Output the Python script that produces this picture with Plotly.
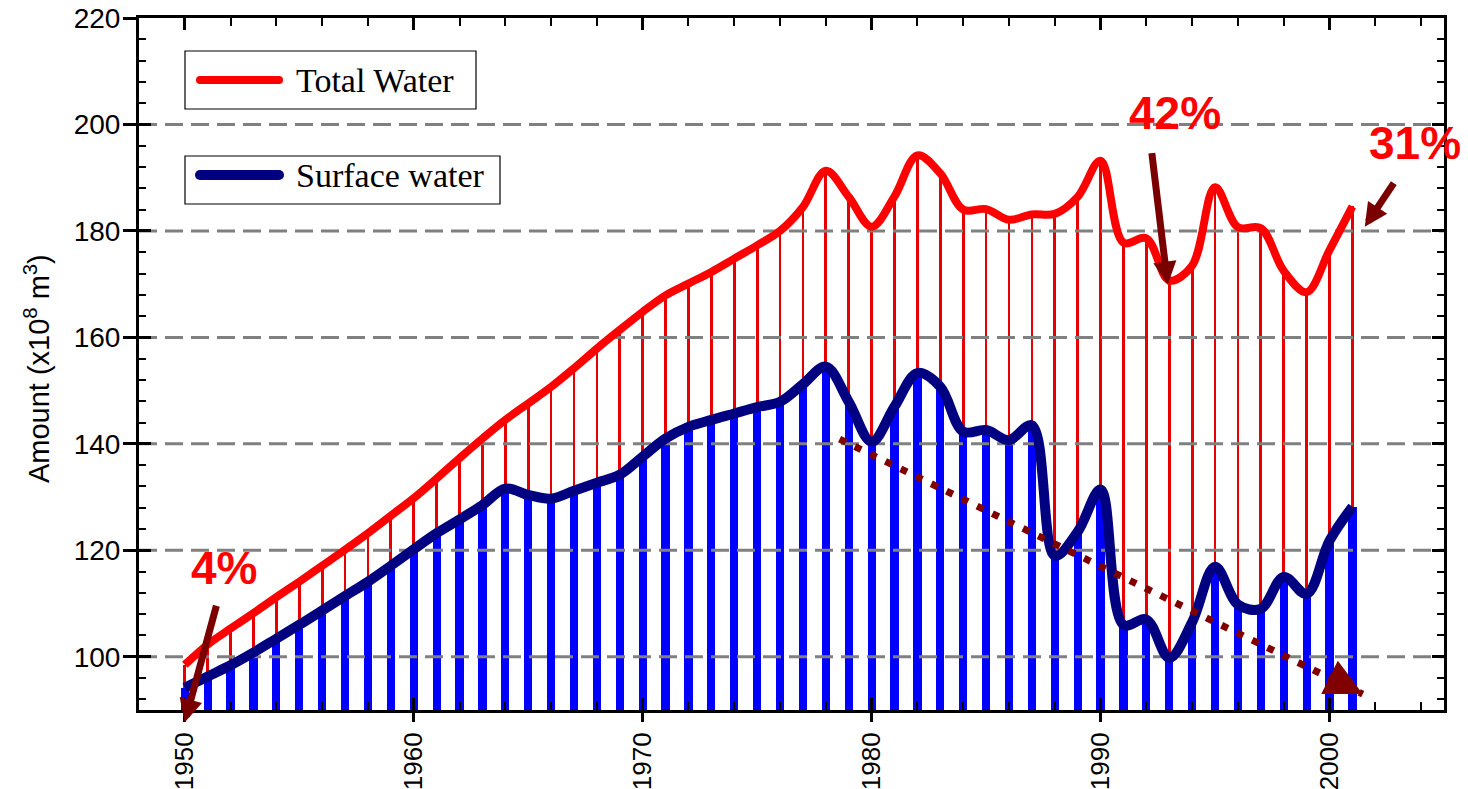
import plotly.graph_objects as go

# ---- data -------------------------------------------------------------
years = list(range(1950, 2002))

total_water = [
    98.5, 102.3, 105.3, 108.2, 111.2, 114.1, 117.1, 120.1, 123.2, 126.5,
    129.8, 133.5, 137.3, 141.0, 144.5, 147.6, 150.7, 154.2, 157.9, 161.4,
    164.8, 167.9, 170.1, 172.3, 174.8, 177.3, 180.0, 184.5, 191.3, 186.4,
    180.8, 186.5, 194.2, 190.8, 184.0, 184.1, 182.1, 183.1, 183.2, 186.4,
    193.2, 177.8, 178.6, 170.7, 173.5, 188.2, 180.7, 180.5, 172.5, 168.5,
    176.4, 184.6,
]

surface_water = [
    94.2, 96.3, 98.4, 100.8, 103.4, 106.0, 108.7, 111.4, 114.1, 117.1,
    120.2, 123.2, 125.8, 128.5, 131.6, 130.4, 129.7, 131.2, 132.7, 134.2,
    137.6, 141.0, 143.2, 144.5, 145.7, 146.9, 147.9, 151.2, 154.5, 147.9,
    140.4, 147.0, 153.3, 150.7, 142.3, 142.6, 140.7, 143.5, 119.0, 123.5,
    131.4, 106.0, 107.0, 99.8, 106.5, 116.9, 109.8, 109.0, 115.0, 111.8,
    121.8, 128.2,
]

x_range = [1948, 2005]
y_range = [90, 220]
grid_levels = [100, 120, 140, 160, 180, 200]

# declining surface-water trend (start, end)
trend_years = [1978.6, 2001.45]
trend_values = [140.9, 93.0]

# share labels and their pointer arrows
share_labels = ["4%", "42%", "31%"]
share_label_x = [1951.7, 1993.25, 2003.75]
share_label_y = [116.6, 202.15, 196.5]
pointer_tip_x = [1950.0, 1992.93, 2001.54]
pointer_tip_y = [87.7, 169.9, 180.8]
pointer_dx = [32, -16, 30]
pointer_dy = [-118, -133, -45]

legend_names = ["Total Water", "Surface water"]

# ---- colours / fonts ---------------------------------------------------
RED = "#FF0000"
STEM_RED = "#E80000"
NAVY = "#000080"
BAR_BLUE = "#0000FF"
DARK_RED = "#7A0000"
GRID = "#808080"
SANS = "Liberation Sans, Arial, sans-serif"
SERIF = "Liberation Serif, Times New Roman, serif"

# plot-area pixel frame
L, R, T, B = 139, 1444, 18, 710
W, H = R - L, B - T


def px(x):
    return (x - L) / W


def py(y):
    return (B - y) / H


fig = go.Figure()

# thin red stems for total water, wide blue bars for surface water
fig.add_trace(go.Bar(x=years, y=total_water, width=0.12,
                     marker=dict(color=STEM_RED, line=dict(width=0)),
                     showlegend=False, hoverinfo="skip"))
fig.add_trace(go.Bar(x=years, y=surface_water, width=0.36,
                     marker=dict(color=BAR_BLUE, line=dict(width=0)),
                     showlegend=False, hoverinfo="skip"))

# dashed horizontal reference lines, drawn over the bars
gx, gy = [], []
for lvl in grid_levels:
    gx += [x_range[0], x_range[1], None]
    gy += [lvl, lvl, None]
fig.add_trace(go.Scatter(x=gx, y=gy, mode="lines",
                         line=dict(color=GRID, width=3, dash="18px,8px"),
                         showlegend=False, hoverinfo="skip"))

# smoothed series lines
fig.add_trace(go.Scatter(x=years, y=total_water, mode="lines",
                         name=legend_names[0],
                         line=dict(color=RED, width=8, shape="spline", smoothing=1),
                         showlegend=False))
fig.add_trace(go.Scatter(x=years, y=surface_water, mode="lines",
                         name=legend_names[1],
                         line=dict(color=NAVY, width=10, shape="spline", smoothing=1),
                         showlegend=False))

# dotted trend line (on the overlay axes so it sits above everything)
fig.add_trace(go.Scatter(x=trend_years, y=trend_values, mode="lines",
                         xaxis="x2", yaxis="y2",
                         line=dict(color="#800000", width=7, dash="7px,10px"),
                         showlegend=False, hoverinfo="skip"))

annotations = []

# trend arrowhead
annotations.append(dict(
    x=trend_years[1], y=trend_values[1], xref="x", yref="y",
    ax=-32, ay=-16, text="", showarrow=True, arrowhead=2,
    arrowsize=1.06, arrowwidth=7, arrowcolor="#800000", standoff=0))

# share labels with pointers
for lab, lx, ly, tx, ty, dx, dy in zip(share_labels, share_label_x, share_label_y,
                                        pointer_tip_x, pointer_tip_y,
                                        pointer_dx, pointer_dy):
    if y_range[0] <= ty <= y_range[1]:
        tip = dict(y=ty, yref="y")
    else:
        # tip below the axis: place it in paper units
        tip = dict(y=(ty - y_range[0]) / (y_range[1] - y_range[0]), yref="paper")
    annotations.append(dict(
        x=tx, xref="x", ax=dx, ay=dy, text="",
        showarrow=True, arrowhead=2, arrowsize=0.66, arrowwidth=7,
        arrowcolor=DARK_RED, standoff=0, **tip))
    annotations.append(dict(
        x=lx, y=ly, xref="x", yref="y", text=f"<b>{lab}</b>",
        showarrow=False, xanchor="center", yanchor="middle",
        font=dict(family=SANS, size=46, color=RED)))

# axis title
annotations.append(dict(
    x=-0.0782, y=0.494, xref="paper", yref="paper",
    text="Amount (x10<sup>8</sup> m<sup>3</sup>)", textangle=-90,
    showarrow=False, xanchor="center", yanchor="middle",
    font=dict(family=SANS, size=29, color="black")))

# legend boxes
shapes = []
legend_boxes = [(185, 51, 476, 109, 80, RED, 8), (185, 156, 500, 204, 175, NAVY, 10)]
for (x0, y0, x1, y1, yc, col, lw), name in zip(legend_boxes, legend_names):
    shapes.append(dict(type="rect", xref="paper", yref="paper",
                       x0=px(x0), x1=px(x1), y0=py(y1), y1=py(y0),
                       line=dict(color="black", width=1.2), fillcolor="white",
                       layer="above"))
    shapes.append(dict(type="line", xref="paper", yref="paper",
                       x0=px(200), x1=px(279), y0=py(yc), y1=py(yc),
                       line=dict(color=col, width=lw), layer="above"))
    for cx in (200, 279):
        r = lw / 2
        shapes.append(dict(type="circle", xref="paper", yref="paper",
                           x0=px(cx - r), x1=px(cx + r), y0=py(yc + r), y1=py(yc - r),
                           line=dict(width=0), fillcolor=col, layer="above"))
    annotations.append(dict(x=px(294), y=py(yc), xref="paper", yref="paper",
                            text=name, showarrow=False, xanchor="left",
                            yanchor="middle",
                            font=dict(family=SERIF, size=34, color="black")))

axis_common = dict(showgrid=False, zeroline=False, showline=True,
                   linecolor="black", linewidth=3, tickcolor="black",
                   automargin=False)

fig.update_layout(
    width=1468, height=789,
    margin=dict(l=L, r=1468 - R, t=T, b=789 - B),
    paper_bgcolor="white", plot_bgcolor="white",
    barmode="overlay", bargap=0,
    showlegend=False,
    xaxis=dict(range=x_range, tickmode="linear", tick0=1950, dtick=10,
               ticks="outside", ticklen=9, tickwidth=2.5, tickangle=-90,
               tickfont=dict(family=SANS, size=26, color="black"),
               **axis_common),
    xaxis2=dict(range=x_range, overlaying="x", anchor="y2", side="top",
                tickmode="linear", tick0=1950, dtick=10,
                ticks="inside", ticklen=12, tickwidth=2.5,
                showticklabels=False, mirror="allticks",
                minor=dict(ticks="inside", tick0=1950, dtick=2, ticklen=8,
                           tickwidth=2, tickcolor="black"),
                **axis_common),
    yaxis=dict(range=y_range, tickmode="linear", tick0=100, dtick=20,
               ticks="outside", ticklen=13, tickwidth=2.5,
               ticklabelstandoff=-3,
               tickfont=dict(family=SANS, size=28, color="black"),
               **axis_common),
    yaxis2=dict(range=y_range, overlaying="y", anchor="x2", side="right",
                tickmode="linear", tick0=100, dtick=20,
                ticks="inside", ticklen=12, tickwidth=2.5,
                showticklabels=False, mirror="allticks",
                minor=dict(ticks="inside", tick0=0, dtick=4, ticklen=7,
                           tickwidth=2, tickcolor="black"),
                **axis_common),
    annotations=annotations,
    shapes=shapes,
)

fig.write_html("out.html")
